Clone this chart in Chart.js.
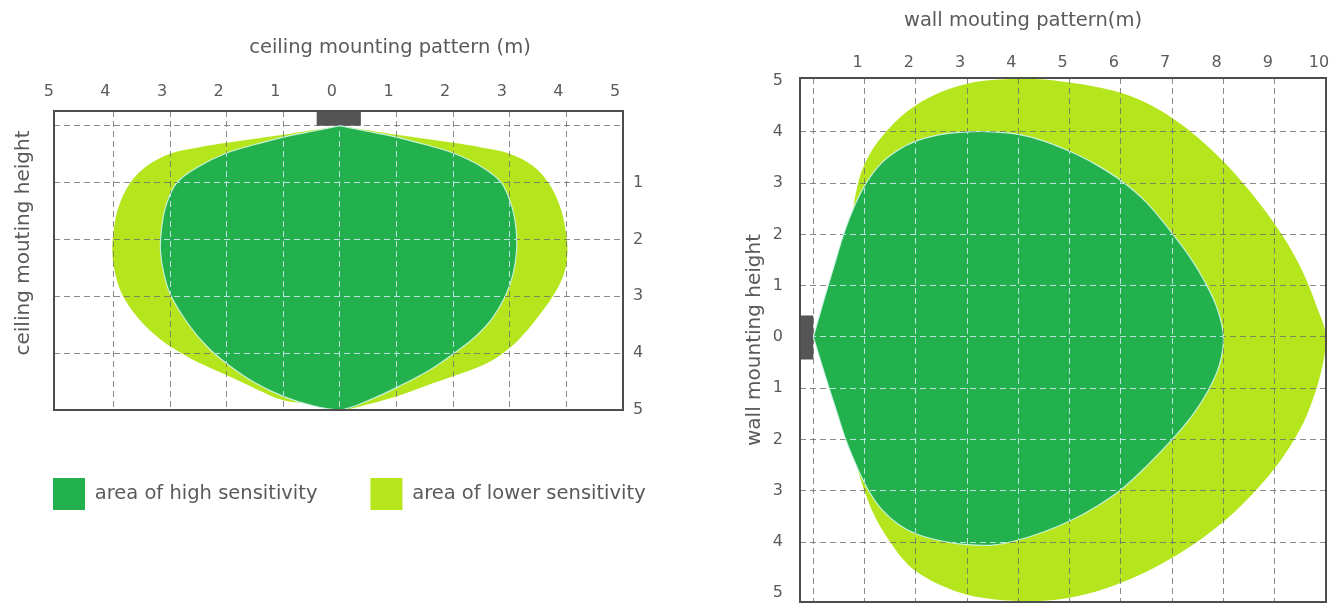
<!DOCTYPE html>
<html>
<head>
<meta charset="utf-8">
<script src="https://cdn.jsdelivr.net/npm/chart.js@4.4.1/dist/chart.umd.min.js"></script>
<style>
html, body { margin: 0; padding: 0; background: #ffffff; }
body { width: 1340px; height: 608px; position: relative; overflow: hidden; }
#c1 { position: absolute; left: 0; top: 0; }
#c2 { position: absolute; left: 700px; top: 0; }
</style>
</head>
<body>
<canvas id="c1" width="700" height="520"></canvas>
<canvas id="c2" width="640" height="608"></canvas>
<script>
// ---------- data ----------
const ceilingTitle = 'ceiling mounting pattern (m)';
const ceilingAxisTitle = 'ceiling mouting height';
const wallTitle = 'wall mouting pattern(m)';
const wallAxisTitle = 'wall mounting height';
const highLabel = 'area of high sensitivity';
const lowLabel = 'area of lower sensitivity';

const ceilingTicksX = [-5, -4, -3, -2, -1, 0, 1, 2, 3, 4, 5];
const ceilingTicksY = [0, 1, 2, 3, 4, 5];
const wallTicksX = [0, 1, 2, 3, 4, 5, 6, 7, 8, 9, 10];
const wallTicksY = [-5, -4, -3, -2, -1, 0, 1, 2, 3, 4, 5];

// ceiling pattern outlines: [horizontal distance, depth below sensor]
const ceilingHigh = [[0,0],[0.5,0.1],[1,0.2],[1.5,0.33],[2,0.48],[2.5,0.72],[2.85,1.0],[3.03,1.4],[3.11,1.8],[3.12,2.2],[3.06,2.6],[2.92,3.0],[2.68,3.4],[2.38,3.72],[2.02,4.0],[1.58,4.3],[1.05,4.58],[0.58,4.8],[0,5],[-0.5,4.92],[-1.0,4.76],[-1.5,4.52],[-1.95,4.22],[-2.33,3.9],[-2.67,3.5],[-2.98,3.0],[-3.11,2.6],[-3.17,2.2],[-3.15,1.8],[-3.07,1.4],[-2.88,1.0],[-2.5,0.72],[-2.0,0.48],[-1.5,0.33],[-1,0.2],[-0.5,0.1],[0,0]];
const ceilingLow = [[0,0],[0.5,0.08],[1,0.16],[1.5,0.23],[2,0.3],[2.5,0.38],[3,0.49],[3.4,0.7],[3.68,1.0],[3.88,1.4],[3.98,1.8],[4.02,2.2],[3.96,2.6],[3.76,3.0],[3.47,3.4],[3.17,3.75],[2.88,4.0],[2.55,4.2],[2.05,4.39],[1.5,4.58],[1.0,4.76],[0.5,4.9],[0,5],[-0.5,4.9],[-1.0,4.83],[-1.5,4.62],[-2.0,4.39],[-2.42,4.2],[-2.8,4.0],[-3.18,3.75],[-3.55,3.4],[-3.83,3.0],[-3.97,2.6],[-4.02,2.2],[-3.99,1.8],[-3.9,1.4],[-3.7,1.0],[-3.4,0.7],[-3.0,0.49],[-2.5,0.38],[-2,0.3],[-1.5,0.23],[-1,0.16],[-0.5,0.08],[0,0]];
const ceilingSensor = [[-0.41,-0.26],[0.37,-0.26],[0.37,0],[-0.41,0],[-0.41,-0.26]];

// wall pattern outlines: [distance from wall, height offset]
const wallHigh = [[0,0],[0.2,0.7],[0.4,1.37],[0.6,2.03],[0.8,2.55],[1.03,3.0],[1.32,3.38],[1.65,3.64],[2.0,3.82],[2.5,3.95],[3.0,4.0],[3.5,4.0],[4.0,3.95],[4.5,3.82],[5.0,3.62],[5.5,3.37],[6.0,3.05],[6.5,2.62],[7.0,2.02],[7.35,1.55],[7.65,1.05],[7.88,0.55],[8.0,0],[7.92,-0.55],[7.7,-1.05],[7.4,-1.52],[7.0,-2.0],[6.5,-2.52],[6.0,-2.98],[5.5,-3.32],[5.0,-3.59],[4.5,-3.8],[4.0,-3.96],[3.5,-4.06],[3.0,-4.05],[2.5,-3.98],[2.0,-3.84],[1.65,-3.65],[1.33,-3.36],[1.08,-3.0],[0.88,-2.6],[0.65,-2.05],[0.45,-1.44],[0.22,-0.72],[0,0]];
const wallLow = [[1.0,0],[0.85,1.0],[0.78,2.0],[0.78,2.5],[0.85,2.9],[0.95,3.25],[1.15,3.65],[1.4,3.98],[1.68,4.27],[2.0,4.52],[2.5,4.78],[3.0,4.94],[3.5,5.01],[4.0,5.03],[4.5,5.02],[5.0,4.96],[5.5,4.88],[6.0,4.76],[6.5,4.56],[7.0,4.27],[7.5,3.89],[8.0,3.42],[8.45,2.92],[8.88,2.37],[9.25,1.82],[9.55,1.26],[9.8,0.64],[10.0,0],[9.9,-0.7],[9.63,-1.52],[9.35,-2.05],[9.03,-2.52],[8.65,-2.97],[8.2,-3.43],[7.73,-3.82],[7.24,-4.16],[6.65,-4.5],[6.04,-4.78],[5.5,-4.97],[4.92,-5.1],[4.35,-5.15],[3.8,-5.14],[3.4,-5.1],[3.0,-5.03],[2.5,-4.85],[2.0,-4.57],[1.72,-4.3],[1.5,-4.0],[1.25,-3.6],[1.05,-3.15],[0.9,-2.7],[0.8,-2.25],[0.8,-1.5],[0.9,-0.7],[1.0,0]];
const wallSensor = [[-0.26,0.42],[0,0.42],[0,-0.44],[-0.26,-0.44],[-0.26,0.42]];

// ---------- style ----------
const DARK = '#22b14c';
const LIME = '#b5e61d';
const SENSOR = '#555555';
const TEXT = '#5a5a5a';
const FRAME = '#4d4d4d';
const GRID_GREY = 'rgba(110,110,110,0.8)';
const GRID_LIGHT = 'rgba(200,236,240,0.9)';
const GRID_DASH = [6, 4];
const FONT = '"DejaVu Sans", sans-serif';

Chart.defaults.font.family = FONT;
Chart.defaults.color = TEXT;

const toPts = arr => arr.map(p => ({ x: p[0], y: p[1] }));

function shapeDs(label, arr, color, outlined) {
  return {
    label, data: toPts(arr), showLine: true, fill: 'shape',
    backgroundColor: color,
    borderColor: outlined ? 'rgba(210,245,235,0.9)' : color,
    borderWidth: outlined ? 1.2 : 0,
    pointRadius: 0, pointHoverRadius: 0, tension: 0.35,
    xAxisID: 'x', yAxisID: 'y'
  };
}
function sensorDs(arr) {
  return {
    label: 'sensor', data: toPts(arr), showLine: true, fill: 'shape',
    backgroundColor: SENSOR, borderWidth: 0, pointRadius: 0, tension: 0,
    xAxisID: 'x', yAxisID: 'y'
  };
}

function atEdge(scale, v) {
  const p = scale.getPixelForValue(v);
  return scale.isHorizontal() ? (p < scale.left + 10 || p > scale.right - 10)
                              : (p < scale.top + 10 || p > scale.bottom - 10);
}
function gridColor(c) {
  if (!c.tick || !c.scale) return GRID_GREY;
  return atEdge(c.scale, c.tick.value) ? 'rgba(0,0,0,0)' : GRID_GREY;
}
function alignPx(chart, px) {
  const d = chart.currentDevicePixelRatio || 1;
  return Math.round((px - 0.5) * d) / d + 0.5;
}
function strokeGrid(chart, color) {
  const ctx = chart.ctx, ca = chart.chartArea, sx = chart.scales.x, sy = chart.scales.y;
  ctx.lineWidth = 1; ctx.strokeStyle = color; ctx.setLineDash(GRID_DASH); ctx.lineDashOffset = 0;
  sx.ticks.forEach(t => {
    if (atEdge(sx, t.value)) return;
    const x = alignPx(chart, sx.getPixelForValue(t.value));
    ctx.beginPath(); ctx.moveTo(x, Math.round(ca.top)); ctx.lineTo(x, ca.bottom); ctx.stroke();
  });
  sy.ticks.forEach(t => {
    if (atEdge(sy, t.value)) return;
    const y = alignPx(chart, sy.getPixelForValue(t.value));
    ctx.beginPath(); ctx.moveTo(Math.round(ca.left), y); ctx.lineTo(ca.right, y); ctx.stroke();
  });
}

const overlayPlugin = {
  id: 'overlay',
  afterDatasetsDraw(chart) {
    const ctx = chart.ctx;
    const hi = chart.getDatasetMeta(0).dataset;
    const lo = chart.getDatasetMeta(1).dataset;
    ctx.save(); ctx.beginPath(); lo.path(ctx); ctx.closePath(); ctx.clip();
    strokeGrid(chart, GRID_GREY); ctx.restore();
    ctx.save(); ctx.beginPath(); hi.path(ctx); ctx.closePath(); ctx.clip();
    strokeGrid(chart, GRID_LIGHT); ctx.restore();
  },
  afterDraw(chart) {
    const ctx = chart.ctx, ca = chart.chartArea;
    ctx.save();
    ctx.strokeStyle = FRAME; ctx.lineWidth = 2; ctx.setLineDash([]);
    ctx.strokeRect(ca.left, ca.top, ca.right - ca.left, ca.bottom - ca.top);
    ctx.restore();
  }
};

const textPlugin = {
  id: 'texts',
  afterDraw(chart, args, opts) {
    const ctx = chart.ctx;
    (opts.items || []).forEach(t => {
      ctx.save();
      ctx.font = t.font; ctx.fillStyle = TEXT;
      ctx.textAlign = 'center'; ctx.textBaseline = 'middle';
      ctx.translate(t.x, t.y); ctx.rotate(t.rot || 0);
      ctx.fillText(t.text, 0, 0);
      ctx.restore();
    });
  }
};

function setTicks(list) {
  return s => { s.ticks = list.map(v => ({ value: v })); };
}
// fix the axis band size and drop the label overhang padding so the plot area is exact
function fixSize(dim, size) {
  return s => {
    s[dim] = size;
    s.paddingTop = 0; s.paddingBottom = 0; s.paddingLeft = 0; s.paddingRight = 0;
  };
}
const tickFont = { size: 16, family: FONT };
const dummyAxis = (pos, size) => ({
  type: 'linear', position: pos, display: true,
  grid: { display: false }, border: { display: false }, ticks: { display: false },
  afterFit: fixSize((pos === 'left' || pos === 'right') ? 'width' : 'height', size)
});

// ---------- ceiling chart ----------
new Chart(document.getElementById('c1'), {
  type: 'scatter',
  data: {
    datasets: [
      shapeDs(highLabel, ceilingHigh, DARK, true),
      shapeDs(lowLabel, ceilingLow, LIME, false),
      sensorDs(ceilingSensor)
    ]
  },
  options: {
    responsive: false, animation: false, events: [],
    layout: { padding: 0 },
    plugins: {
      tooltip: { enabled: false },
      legend: {
        display: true, position: 'bottom', align: 'start',
        labels: {
          boxWidth: 32, boxHeight: 32, padding: 53, color: TEXT,
          font: { size: 19.5, family: FONT },
          generateLabels: chart => Chart.defaults.plugins.legend.labels.generateLabels(chart)
            .filter(i => i.datasetIndex < 2)
            .map(i => Object.assign(i, { lineWidth: 0, strokeStyle: 'rgba(0,0,0,0)' }))
        }
      },
      texts: {
        items: [
          { text: ceilingTitle, x: 390, y: 48, font: '19.5px ' + FONT },
          { text: ceilingAxisTitle, x: 24, y: 243, rot: -Math.PI / 2, font: '20px ' + FONT }
        ]
      }
    },
    scales: {
      x: {
        type: 'linear', position: 'top', min: -5.05, max: 5,
        afterBuildTicks: setTicks(ceilingTicksX),
        afterFit: fixSize('height', 111),
        grid: { color: gridColor, lineWidth: 1, drawTicks: false },
        border: { display: false, dash: GRID_DASH },
        ticks: { autoSkip: false, maxRotation: 0, padding: 10, labelOffset: -8, color: TEXT, font: tickFont,
                 callback: v => String(Math.abs(v)) }
      },
      y: {
        type: 'linear', position: 'right', min: -0.26, max: 5, reverse: true,
        afterBuildTicks: setTicks(ceilingTicksY),
        afterFit: fixSize('width', 77),
        grid: { color: gridColor, lineWidth: 1, drawTicks: false },
        border: { display: false, dash: GRID_DASH },
        ticks: { autoSkip: false, padding: 10, color: TEXT, font: tickFont,
                 callback: v => (v === 0 ? '' : String(Math.abs(v))) }
      },
      yl: dummyAxis('left', 54),
      xb: dummyAxis('bottom', 15)
    }
  },
  plugins: [textPlugin, overlayPlugin]
});

// ---------- wall chart ----------
new Chart(document.getElementById('c2'), {
  type: 'scatter',
  data: {
    datasets: [
      shapeDs(highLabel, wallHigh, DARK, true),
      shapeDs(lowLabel, wallLow, LIME, false),
      sensorDs(wallSensor)
    ]
  },
  options: {
    responsive: false, animation: false, events: [],
    layout: { padding: { right: 14, bottom: 6 } },
    plugins: {
      tooltip: { enabled: false },
      legend: { display: false },
      texts: {
        items: [
          { text: wallTitle, x: 323, y: 21, font: '19.5px ' + FONT },
          { text: wallAxisTitle, x: 55, y: 340, rot: -Math.PI / 2, font: '20px ' + FONT }
        ]
      }
    },
    scales: {
      x: {
        type: 'linear', position: 'top', min: -0.26, max: 10,
        afterBuildTicks: setTicks(wallTicksX),
        afterFit: fixSize('height', 78),
        grid: { color: gridColor, lineWidth: 1, drawTicks: false },
        border: { display: false, dash: GRID_DASH },
        ticks: { autoSkip: false, maxRotation: 0, padding: 6, labelOffset: -7, color: TEXT, font: tickFont,
                 callback: v => (v === 0 ? '' : String(v)) }
      },
      y: {
        type: 'linear', position: 'left', min: -5.17, max: 5.05,
        afterBuildTicks: setTicks(wallTicksY),
        afterFit: fixSize('width', 100),
        grid: { color: gridColor, lineWidth: 1, drawTicks: false },
        border: { display: false, dash: GRID_DASH },
        ticks: { autoSkip: false, padding: 17, color: TEXT, font: tickFont,
                 callback: v => String(Math.abs(v)) }
      }
    }
  },
  plugins: [textPlugin, overlayPlugin]
});
</script>
</body>
</html>
